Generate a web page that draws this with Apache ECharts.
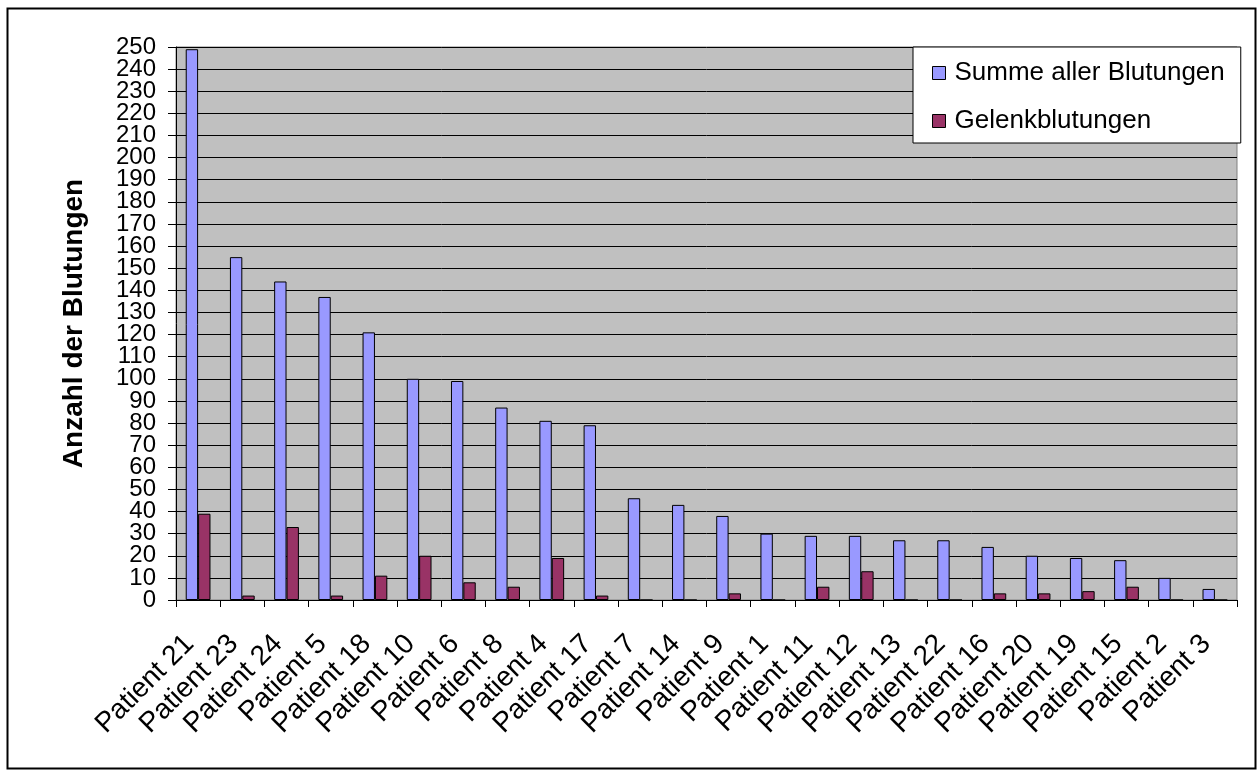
<!DOCTYPE html>
<html>
<head>
<meta charset="utf-8">
<script src="https://cdn.jsdelivr.net/npm/echarts@6/dist/echarts.min.js"></script>
<style>
  html, body { margin: 0; padding: 0; background: #ffffff; }
  #chart { width: 1259px; height: 772px; }
</style>
</head>
<body>
<div id="chart"></div>
<script>
// Patients, sorted by total number of bleeds
const patients = [
  'Patient 21', 'Patient 23', 'Patient 24', 'Patient 5', 'Patient 18', 'Patient 10',
  'Patient 6', 'Patient 8', 'Patient 4', 'Patient 17', 'Patient 7', 'Patient 14',
  'Patient 9', 'Patient 1', 'Patient 11', 'Patient 12', 'Patient 13', 'Patient 22',
  'Patient 16', 'Patient 20', 'Patient 19', 'Patient 15', 'Patient 2', 'Patient 3'
];

// Sum of all bleeds per patient
const summeAllerBlutungen = [
  249, 155, 144, 137, 121, 100, 99, 87, 81, 79, 46, 43,
  38, 30, 29, 29, 27, 27, 24, 20, 19, 18, 10, 5
];

// Joint bleeds per patient
const gelenkblutungen = [
  39, 2, 33, 2, 11, 20, 8, 6, 19, 2, 0, 0,
  3, 0, 6, 13, 0, 0, 3, 3, 4, 6, 0, 0
];

// Value-axis tick labels (every 10 bleeds)
const yTickLabels = [
  0, 10, 20, 30, 40, 50, 60, 70, 80, 90, 100, 110, 120,
  130, 140, 150, 160, 170, 180, 190, 200, 210, 220, 230, 240, 250
];

const seriesNames = ['Summe aller Blutungen', 'Gelenkblutungen'];
const yAxisTitle = 'Anzahl der Blutungen';

const font = "'Liberation Sans', Arial, sans-serif";

const chart = echarts.init(document.getElementById('chart'), null, { renderer: 'canvas' });

chart.setOption({
  animation: false,
  backgroundColor: '#ffffff',
  textStyle: { fontFamily: font, color: '#000000' },
  graphic: [{
    type: 'rect',
    left: 5, top: 6,
    shape: { width: 1248, height: 760 },
    style: { fill: 'none', stroke: '#000000', lineWidth: 2 },
    silent: true,
    z: -1
  }],
  grid: {
    left: 176, right: 22, top: 47, bottom: 172,
    show: true,
    backgroundColor: '#C0C0C0',
    borderColor: '#808080',
    borderWidth: 1
  },
  legend: {
    orient: 'vertical',
    left: 913, top: 47,
    data: seriesNames,
    backgroundColor: '#ffffff',
    borderColor: '#000000',
    borderWidth: 1,
    padding: [13, 16, 9, 19],
    itemGap: 22,
    itemWidth: 13,
    itemHeight: 13,
    icon: 'rect',
    itemStyle: { borderColor: '#000000', borderWidth: 1 },
    textStyle: { fontFamily: font, fontSize: 26, color: '#000000', lineHeight: 26, padding: [0, 0, 0, 4] }
  },
  xAxis: {
    type: 'category',
    data: patients,
    boundaryGap: true,
    axisLine: { lineStyle: { color: '#000000', width: 1 } },
    axisTick: { show: true, length: 7, inside: false, lineStyle: { color: '#000000' } },
    axisLabel: {
      interval: 0,
      rotate: 45,
      margin: 31,
      padding: [0, 12, 0, 0],
      fontFamily: font,
      fontSize: 28,
      color: '#000000'
    },
    splitLine: { show: false }
  },
  yAxis: {
    type: 'value',
    min: 0, max: 250, interval: 10,
    name: yAxisTitle,
    nameLocation: 'middle',
    nameGap: 88,
    nameTextStyle: { fontFamily: font, fontSize: 28, fontWeight: 'bold', color: '#000000' },
    axisLine: { show: true, lineStyle: { color: '#000000', width: 1 } },
    axisTick: { show: true, length: 8, inside: false, lineStyle: { color: '#000000' } },
    // tick labels are drawn by the custom series below so that every one of them stays visible
    axisLabel: { show: false },
    splitLine: { show: true, lineStyle: { color: '#000000', width: 1 } }
  },
  series: [
    {
      name: seriesNames[0],
      type: 'bar',
      data: summeAllerBlutungen,
      barGap: '0%',
      barCategoryGap: '44%',
      itemStyle: { color: '#9999FF', borderColor: '#000000', borderWidth: 1 }
    },
    {
      name: seriesNames[1],
      type: 'bar',
      data: gelenkblutungen,
      itemStyle: { color: '#993366', borderColor: '#000000', borderWidth: 1 }
    },
    {
      // value-axis labels, placed through the axis scales left of the axis line
      type: 'custom',
      silent: true,
      clip: false,
      z: 5,
      data: yTickLabels.map(v => [0, v]),
      encode: { x: 0, y: 1 },
      renderItem: (params, api) => {
        const value = api.value(1);
        const p = api.coord([0, value]);
        const band = api.size([1, 0])[0];
        return {
          type: 'text',
          x: p[0] - band / 2 - 20,
          y: p[1],
          style: {
            text: String(value),
            font: "24px 'Liberation Sans', Arial, sans-serif",
            textAlign: 'right',
            textVerticalAlign: 'middle',
            fill: '#000000'
          }
        };
      }
    }
  ]
});
</script>
</body>
</html>
